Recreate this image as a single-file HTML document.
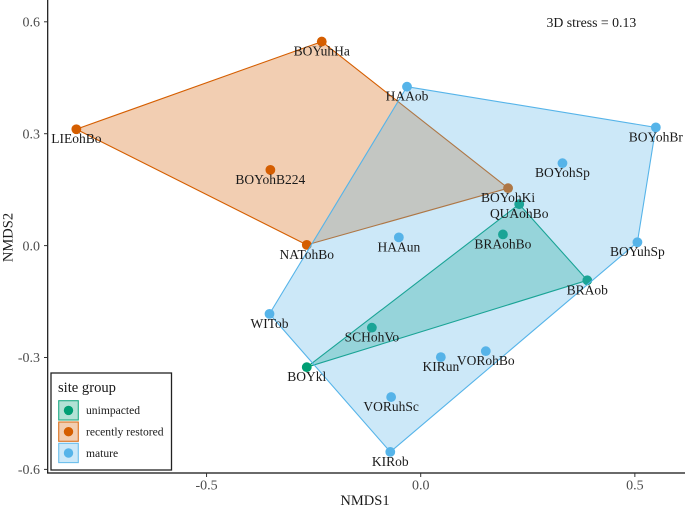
<!DOCTYPE html>
<html>
<head>
<meta charset="utf-8">
<title>NMDS ordination</title>
<style>
html,body{margin:0;padding:0;background:#fff;}
svg{display:block;font-family:"Liberation Serif",serif;}
</style>
</head>
<body>
<svg id="chart" width="685" height="507" viewBox="0 0 685 507" xmlns="http://www.w3.org/2000/svg"></svg>
<script>
const groupNames = ['unimpacted', 'recently restored', 'mature'];
const groupColors = ['#009E73', '#D55E00', '#56B4E9'];

const unimpactedSites = ['BOYkl', 'BRAob', 'QUAohBo', 'BRAohBo', 'SCHohVo'];
const unimpactedX = [-0.266, 0.389, 0.230, 0.192, -0.114];
const unimpactedY = [-0.326, -0.093, 0.111, 0.030, -0.220];
const unimpactedHull = ['BOYkl', 'BRAob', 'QUAohBo'];

const restoredSites = ['BOYuhHa', 'LIEohBo', 'BOYohB224', 'NATohBo', 'BOYohKi'];
const restoredX = [-0.231, -0.804, -0.351, -0.266, 0.204];
const restoredY = [0.547, 0.312, 0.203, 0.002, 0.154];
const restoredHull = ['BOYuhHa', 'LIEohBo', 'NATohBo', 'BOYohKi'];

const matureSites = ['HAAob', 'BOYohBr', 'BOYohSp', 'HAAun', 'BOYuhSp', 'WITob', 'KIRob', 'VORuhSc', 'KIRun', 'VORohBo'];
const matureX = [-0.032, 0.549, 0.331, -0.051, 0.506, -0.353, -0.071, -0.069, 0.047, 0.152];
const matureY = [0.426, 0.317, 0.221, 0.022, 0.009, -0.183, -0.553, -0.406, -0.299, -0.283];
const matureHull = ['HAAob', 'BOYohBr', 'BOYuhSp', 'KIRob', 'WITob'];

const xTicks = [-0.5, 0, 0.5];
const xTickLabels = ['-0.5', '0.0', '0.5'];
const yTicks = [0.6, 0.3, 0, -0.3, -0.6];
const yTickLabels = ['0.6', '0.3', '0.0', '-0.3', '-0.6'];

const xScale = v => 420.7 + 428.3 * v;
const yScale = v => 245.6 - 373 * v;

const svg = document.getElementById('chart');
function mk(tag, attrs, parent, text) {
  const el = document.createElementNS('http://www.w3.org/2000/svg', tag);
  for (const k in attrs) el.setAttribute(k, attrs[k]);
  if (text !== undefined) el.textContent = text;
  (parent || svg).appendChild(el);
  return el;
}

const groups = [
  {key: 'unimpacted', sites: unimpactedSites, xs: unimpactedX, ys: unimpactedY, hull: unimpactedHull, color: groupColors[0]},
  {key: 'restored', sites: restoredSites, xs: restoredX, ys: restoredY, hull: restoredHull, color: groupColors[1]},
  {key: 'mature', sites: matureSites, xs: matureX, ys: matureY, hull: matureHull, color: groupColors[2]}
];

// points lie under the hulls
groups.forEach(g => {
  g.sites.forEach((s, i) => {
    const c = mk('circle', {cx: xScale(g.xs[i]), cy: yScale(g.ys[i]), r: 4.9, fill: g.color});
    
    
  });
});

// hulls
groups.forEach(g => {
  const pts = g.hull.map(n => {
    const i = g.sites.indexOf(n);
    return xScale(g.xs[i]).toFixed(1) + ',' + yScale(g.ys[i]).toFixed(1);
  }).join(' ');
  const p = mk('polygon', {points: pts, fill: g.color, 'fill-opacity': 0.3, stroke: g.color, 'stroke-width': 1.1, 'stroke-linejoin': 'round'});
  
  
});

// site labels
groups.forEach(g => {
  g.sites.forEach((s, i) => {
    const t = mk('text', {x: xScale(g.xs[i]), y: yScale(g.ys[i]) + 14, 'text-anchor': 'middle', 'font-size': 13.5, fill: '#1a1a1a'}, svg, s);
    
    
  });
});

// axes
const yAxis = mk('line', {x1: 47.7, y1: 0, x2: 47.7, y2: 473.5, stroke: '#111', 'stroke-width': 1.2});


const xAxis = mk('line', {x1: 47.1, y1: 473, x2: 685, y2: 473, stroke: '#111', 'stroke-width': 1.2});



xTicks.forEach((v, i) => {
  const x = xScale(v);
  const tk = mk('line', {x1: x, y1: 473, x2: x, y2: 477, stroke: '#333', 'stroke-width': 1});
  
  
  const t = mk('text', {x: x, y: 489.5, 'text-anchor': 'middle', 'font-size': 14, fill: '#4d4d4d'}, svg, xTickLabels[i]);
  
  
});
yTicks.forEach((v, i) => {
  const y = yScale(v);
  const tk = mk('line', {x1: 44, y1: y, x2: 47.7, y2: y, stroke: '#333', 'stroke-width': 1});
  
  
  const t = mk('text', {x: 40, y: y + 4.7, 'text-anchor': 'end', 'font-size': 14, fill: '#4d4d4d'}, svg, yTickLabels[i]);
  
  
});

// legend
const legendBox = mk('rect', {x: 51, y: 373, width: 120.5, height: 97, fill: '#fff', stroke: '#222', 'stroke-width': 1.3});


const legendTitle = mk('text', {x: 58, y: 392, 'font-size': 14.6, fill: '#1a1a1a'}, svg, 'site group');


groupNames.forEach((name, i) => {
  const top = 400.7 + i * 21.3;
  const k = mk('rect', {x: 58.7, y: top, width: 19.6, height: 19.3, fill: groupColors[i], 'fill-opacity': 0.3, stroke: groupColors[i], 'stroke-opacity': 0.85, 'stroke-width': 1.1});
  
  
  const d = mk('circle', {cx: 68.5, cy: top + 9.7, r: 4.7, fill: groupColors[i]});
  
  
  const t = mk('text', {x: 86, y: top + 13.5, 'font-size': 11.6, fill: '#1a1a1a'}, svg, name);
  
  
});

const stressNote = mk('text', {x: 546.5, y: 27, 'font-size': 13.8, fill: '#1a1a1a'}, svg, '3D stress = 0.13');


const xTitle = mk('text', {x: 365, y: 505, 'text-anchor': 'middle', 'font-size': 14.5, fill: '#1a1a1a'}, svg, 'NMDS1');


const yTitle = mk('text', {x: 0, y: 0, transform: 'translate(12.7 237.5) rotate(-90)', 'text-anchor': 'middle', 'font-size': 14.5, fill: '#1a1a1a'}, svg, 'NMDS2');


</script>
</body>
</html>
